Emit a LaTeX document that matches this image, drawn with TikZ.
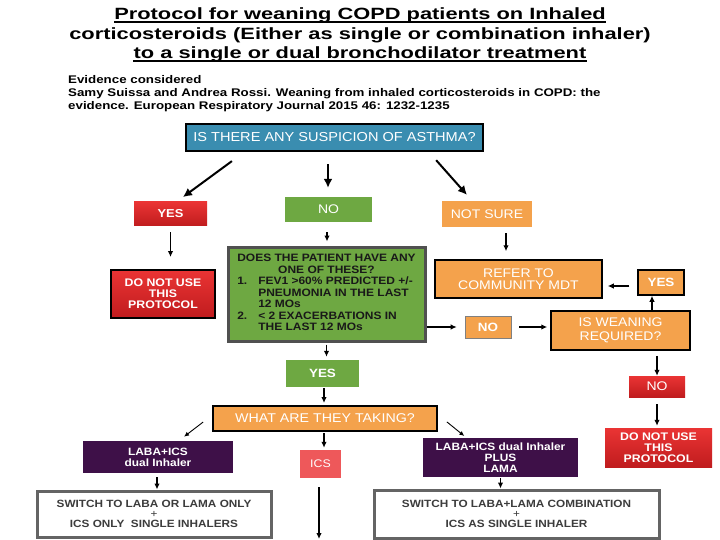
\documentclass[tikz,border=0pt]{standalone}
\usepackage{fontspec}
\setmainfont[FakeStretch=1.12]{Liberation Sans}
\newfontfamily\titlefont[FakeStretch=1.34]{Liberation Sans}
\newfontfamily\evfont[FakeStretch=1.2]{Liberation Sans}
\usetikzlibrary{arrows.meta}
\definecolor{qblue}{RGB}{58,141,176}
\definecolor{qgreen}{RGB}{110,168,66}
\definecolor{qorange}{RGB}{244,162,76}
\definecolor{qredtop}{RGB}{234,52,52}
\definecolor{qredbot}{RGB}{192,28,30}
\definecolor{qpurple}{RGB}{62,16,72}
\definecolor{qsalmon}{RGB}{238,88,90}
\definecolor{qgray}{RGB}{100,100,100}
\definecolor{qtext}{RGB}{60,60,60}
\newcommand\fsz[2]{\fontsize{#1}{#2}\selectfont}
\tikzset{
  box/.style={inner sep=0pt, align=center, text=white},
  wh/.style 2 args={minimum width=#1pt, minimum height=#2pt},
  bluebox/.style={box, fill=qblue, draw=black, line width=2.5pt, font=\fsz{13}{15}},
  redbox/.style={box, top color=qredtop, bottom color=qredbot, font=\bfseries\fsz{11}{11}},
  greenbox/.style={box, fill=qgreen, font=\fsz{12.5}{14}},
  orangebox/.style={box, fill=qorange, font=\fsz{12.5}{12}},
  purplebox/.style={box, fill=qpurple, font=\bfseries\fsz{10.6}{11.2}},
  salmonbox/.style={box, fill=qsalmon, font=\fsz{11}{12}},
  switchbox/.style={box, fill=white, draw=qgray, line width=3pt, text=qtext, font=\bfseries\fsz{10.5}{10.3}},
  bigbox/.style={box, fill=qgreen, draw=qgray!80!black, line width=3pt, text=black!90, font=\bfseries\fsz{10.7}{11.5}},
  titletext/.style={inner sep=0pt, anchor=base, font=\titlefont\bfseries\fsz{16.3}{18}},
  uline/.style={line width=1.3pt},
  evtext/.style={inner sep=0pt, anchor=base west, font=\evfont\bfseries\fsz{11.1}{12}},
  arr/.style={-{Latex[length=6pt,width=5.5pt]}, line width=1.3pt},
  bigarr/.style={-{Latex[length=9pt,width=9pt]}, line width=2pt},
}
\begin{document}
\begin{tikzpicture}[x=1pt,y=-1pt]
\useasboundingbox[fill=white] (0,0) rectangle (720,540);
% title
\node[titletext] (t1) at (360,19.5) {Protocol for weaning COPD patients on Inhaled};
\node[titletext] (t2) at (360,39.5) {corticosteroids (Either as single or combination inhaler)};
\node[titletext] (t3) at (360,58.5) {to a single or dual bronchodilator treatment};
\draw[uline] ([yshift=-2.5pt]t1.base west) -- ([yshift=-2.5pt]t1.base east);
\draw[uline] ([yshift=-2.5pt]t3.base west) -- ([yshift=-2.5pt]t3.base east);
\node[evtext] (e1) at (68,84) {Evidence considered};
\node[evtext] (e2) at (68,97) {Samy Suissa and Andrea Rossi. Weaning from inhaled corticosteroids in COPD: the};
\node[evtext] (e3) at (68,110) {evidence. European Respiratory Journal 2015 46: 1232-1235};
% nodes
\node[bluebox, wh={297}{27}] (asthma) at (334.5,137.5) {IS THERE ANY SUSPICION OF ASTHMA?};
\node[redbox, wh={73}{24}, font=\bfseries\fsz{11.5}{12}] (yes) at (170.5,214) {YES};
\node[greenbox, wh={87}{25}] (no) at (328.5,209.5) {NO};
\node[orangebox, wh={90}{26}] (notsure) at (487,214) {NOT SURE};
\node[redbox, draw=black, line width=2pt, wh={104}{48}] (dnu) at (163,294) {DO NOT USE\\THIS\\PROTOCOL};
\node[bigbox, wh={197}{94}] (green) at (326.5,294) {%
  \begin{tabular}{@{}p{21pt}@{}l@{}}
  \multicolumn{2}{@{}c@{}}{DOES THE PATIENT HAVE ANY}\\
  \multicolumn{2}{@{}c@{}}{ONE OF THESE?}\\
  1. & FEV1 >60\% PREDICTED +/-\\
     & PNEUMONIA IN THE LAST\\
     & 12 MOs\\
  2. & < 2 EXACERBATIONS IN\\
     & THE LAST 12 MOs
  \end{tabular}};
\node[orangebox, draw=black, line width=1.5pt, wh={167}{38}] (refer) at (518.5,279) {REFER TO\\COMMUNITY MDT};
\node[orangebox, draw=black, line width=1.5pt, wh={46}{25}, font=\bfseries\fsz{12}{12}] (yes2) at (661,282.5) {YES};
\node[orangebox, draw=black!50, line width=0.6pt, wh={46}{22}, font=\bfseries\fsz{12}{12}] (no2) at (488,327) {NO};
\node[orangebox, draw=black, line width=1.5pt, wh={139}{39}, font=\fsz{12.5}{13.5}] (wean) at (620.5,330.5) {IS WEANING\\REQUIRED?};
\node[redbox, wh={56}{21}, font=\fsz{12.5}{12}] (no3) at (657,386.5) {NO};
\node[redbox, wh={107}{39}] (dnu2) at (658.5,447.5) {DO NOT USE\\THIS\\PROTOCOL};
\node[greenbox, wh={73}{27}, font=\bfseries\fsz{12}{12}] (yes3) at (322.5,373.5) {YES};
\node[orangebox, draw=black, line width=2pt, wh={224}{25}, font=\fsz{12.7}{13}] (what) at (325,418.5) {WHAT ARE THEY TAKING?};
\node[purplebox, wh={150}{32}] (laba) at (158,457) {LABA+ICS\\dual Inhaler};
\node[salmonbox, wh={41}{28}] (ics) at (320.5,464) {ICS};
\node[purplebox, wh={155}{39}] (laba2) at (500.5,457.5) {LABA+ICS dual Inhaler\\PLUS\\LAMA};
\node[switchbox, wh={234}{46}] (sw1) at (154,514) {SWITCH TO LABA OR LAMA ONLY\\{\mdseries +}\\ICS ONLY\ \ SINGLE INHALERS};
\node[switchbox, wh={285}{48}] (sw2) at (516.5,514) {SWITCH TO LABA+LAMA COMBINATION\\{\mdseries +}\\ICS AS SINGLE INHALER};
\coordinate (icsend) at (319,539);
% connectors
\draw[bigarr, shorten <=15pt, shorten >=8pt] ([xshift=-90.5pt]asthma.south) -- ([xshift=6pt]yes.north);
\draw[bigarr, line width=2.8pt, shorten <=12pt, shorten >=9pt] ([xshift=-6.5pt]asthma.south) -- ([xshift=-0.5pt]no.north);
\draw[bigarr, shorten <=10.6pt, shorten >=7.9pt] ([xshift=94.6pt]asthma.south) -- ([xshift=-14.8pt]notsure.north);
\draw[arr, shorten <=6pt, shorten >=12pt] (yes.south) -- (yes.south |- dnu.north);
\draw[arr, shorten <=10pt, shorten >=4pt] ([xshift=-1.5pt]no.south) -- ([xshift=-1.5pt]no.south |- green.north);
\draw[arr, shorten <=6pt, shorten >=8pt] ([xshift=19pt]notsure.south) -- ([xshift=19pt]notsure.south |- refer.north);
\draw[arr, shorten <=8pt, shorten >=5pt] ([yshift=-3.5pt]yes2.west) -- ([yshift=-3.5pt]yes2.west -| refer.east);
\draw[arr, shorten >=8pt] (no2.west -| green.east) -- (no2.west);
\draw[arr, shorten <=8pt, shorten >=3pt] (no2.east) -- (no2.east -| wean.west);
\draw[arr] ([xshift=31.5pt]wean.north) -- ([xshift=31.5pt]wean.north |- yes2.south);
\draw[arr, shorten <=5pt] (wean.south -| no3.north) -- (no3.north);
\draw[arr, shorten <=7pt, shorten >=2pt] (no3.south) -- (no3.south |- dnu2.north);
\draw[arr, shorten <=2pt, shorten >=3pt] (green.south) -- (green.south |- yes3.north);
\draw[arr, shorten <=1pt, shorten >=2pt] ([xshift=1.5pt]yes3.south) -- ([xshift=1.5pt]yes3.south |- what.north);
\draw[arr, shorten <=1pt, shorten >=2pt] ([xshift=-1pt]what.south) -- ([xshift=-1pt]what.south |- ics.north);
\draw[-{Latex[length=5pt,width=4.5pt]}, line width=0.9pt, shorten <=11.2pt, shorten >=6.7pt] ([yshift=3.25pt]what.west) -- ([xshift=20.7pt]laba.north);
\draw[-{Latex[length=5pt,width=4.5pt]}, line width=0.9pt, shorten <=11.4pt, shorten >=2.8pt] ([yshift=3.8pt]what.east) -- ([xshift=-34pt]laba2.north);
\draw[arr, shorten <=4pt] ([xshift=-1pt]laba.south) -- ([xshift=-1pt]laba.south |- sw1.north);
\draw[arr, shorten <=1pt] (laba2.south) -- (laba2.south |- sw2.north);
\draw[arr, shorten <=9pt] (ics.south -| icsend) -- (icsend);
\end{tikzpicture}
\end{document}
